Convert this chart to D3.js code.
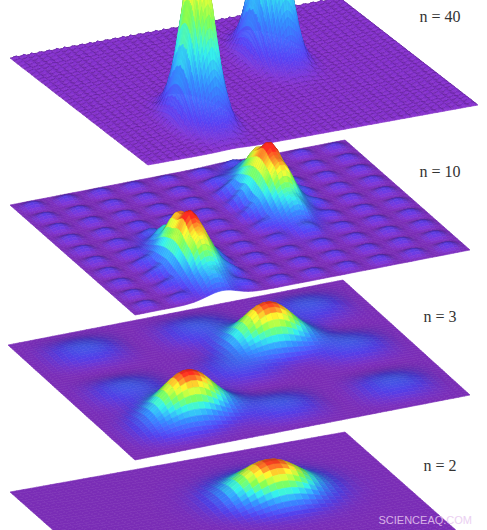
<!DOCTYPE html>
<html><head><meta charset="utf-8">
<script src="https://cdn.jsdelivr.net/npm/d3@7"></script>
<style>body{margin:0;background:#fff}</style>
</head><body>
<div id="chart"></div>
<script>
// panel data
const panelLabels = ["n = 40", "n = 10", "n = 3", "n = 2"];
const panelN = [40, 10, 3, 2];
const peakA = [0.36, 0.74];
const peakB = [0.64, 0.26];
const peakCount = [2, 2, 2, 1];
const peakHeight = [175, 55, 42, 34];
const rippleHeight = [3, 5, 7, 0];
const spreadA = [0.08, 0.13, 0.075, 0.09];
const spreadB = [0.035, 0.045, 0.075, 0.09];

const width = 487, height = 530;

// plane geometry: left corner, "a" edge vector, "b" edge vector
const planes = [
  {o: [10, 58], u: [138, 107], v: [330, -60], grid: 130, labelY: 22},
  {o: [10, 205], u: [125, 110], v: [335, -65], grid: 80, labelY: 177},
  {o: [8, 345], u: [127, 115], v: [335, -65], grid: 60, labelY: 322},
  {o: [10, 492], u: [130, 115], v: [335, -60], grid: 50, labelY: 471}
];

const color = d3.scaleLinear()
  .domain([0, 0.1, 0.28, 0.45, 0.62, 0.8, 1])
  .range(["#7a2db6", "#4d3ad8", "#2f7fe8", "#2fd6d0", "#74e84a", "#f2dc2a", "#e8261e"])
  .clamp(true);

const svg = d3.select("#chart").append("svg")
  .attr("width", width).attr("height", height);

panelN.forEach(function (n, p) {
  const pl = planes[p];
  const amp = peakHeight[p];
  function h(a, b) {
    let z = 0;
    for (let k = 0; k < peakCount[p]; k++) {
      const da = (a - peakA[k]) / spreadA[p], db = (b - peakB[k]) / spreadB[p];
      z += amp * Math.exp(-0.5 * (da * da + db * db));
    }
    const s = Math.sin(n * Math.PI * a) * Math.sin(n * Math.PI * b);
    z += rippleHeight[p] * s * s;
    return z;
  }
  const N = pl.grid;
  const sa = d3.scaleLinear().domain([0, N]).range([0, 1]);
  function proj(a, b, z) {
    return [pl.o[0] + a * pl.u[0] + b * pl.v[0], pl.o[1] + a * pl.u[1] + b * pl.v[1] - z];
  }
  const H = [];
  for (let i = 0; i <= N; i++) {
    H.push([]);
    for (let j = 0; j <= N; j++) H[i].push(h(sa(i), sa(j)));
  }
  const cells = [];
  for (let i = 0; i < N; i++) for (let j = 0; j < N; j++) {
    const a0 = sa(i), a1 = sa(i + 1), b0 = sa(j), b1 = sa(j + 1);
    const zc = (H[i][j] + H[i + 1][j] + H[i][j + 1] + H[i + 1][j + 1]) / 4;
    const dza = (H[i + 1][j] + H[i + 1][j + 1] - H[i][j] - H[i][j + 1]) / 2;
    const dzb = (H[i][j + 1] + H[i + 1][j + 1] - H[i][j] - H[i + 1][j]) / 2;
    const pts = [proj(a0, b0, H[i][j]), proj(a1, b0, H[i + 1][j]),
                 proj(a1, b1, H[i + 1][j + 1]), proj(a0, b1, H[i][j + 1])];
    const depth = pl.o[1] + ((a0 + a1) / 2) * pl.u[1] + ((b0 + b1) / 2) * pl.v[1];
    const shade = Math.max(-0.7, Math.min(0.7, (dza * 0.6 - dzb * 0.25) * 0.6 * N / 60));
    let c = d3.rgb(color(zc / amp));
    c = shade > 0 ? c.darker(shade) : c.brighter(-shade * 0.5);
    cells.push({pts, depth, c: c.toString()});
  }
  cells.sort((x, y) => x.depth - y.depth);
  const g = svg.append("g");
  g.selectAll("path").data(cells).join("path")
    .attr("d", d => "M" + d.pts.map(q => q[0].toFixed(1) + "," + q[1].toFixed(1)).join("L") + "Z")
    .attr("fill", d => d.c)
    .attr("stroke", d => d.c)
    .attr("stroke-width", 0.6);
});

planes.forEach(function (pl, p) {
  svg.append("text")
    .attr("x", 440).attr("y", pl.labelY)
    .attr("text-anchor", "middle")
    .attr("font-family", "Liberation Serif, DejaVu Serif, serif")
    .attr("font-size", 16).attr("fill", "#333")
    .text(panelLabels[p]);
});

svg.append("text")
  .attr("x", 472).attr("y", 524).attr("text-anchor", "end")
  .attr("font-family", "Liberation Sans, Arial, sans-serif")
  .attr("font-size", 11).attr("fill", "#e8c8f0").attr("opacity", 0.85)
  .text("SCIENCEAQ.COM");
</script>
</body></html>
